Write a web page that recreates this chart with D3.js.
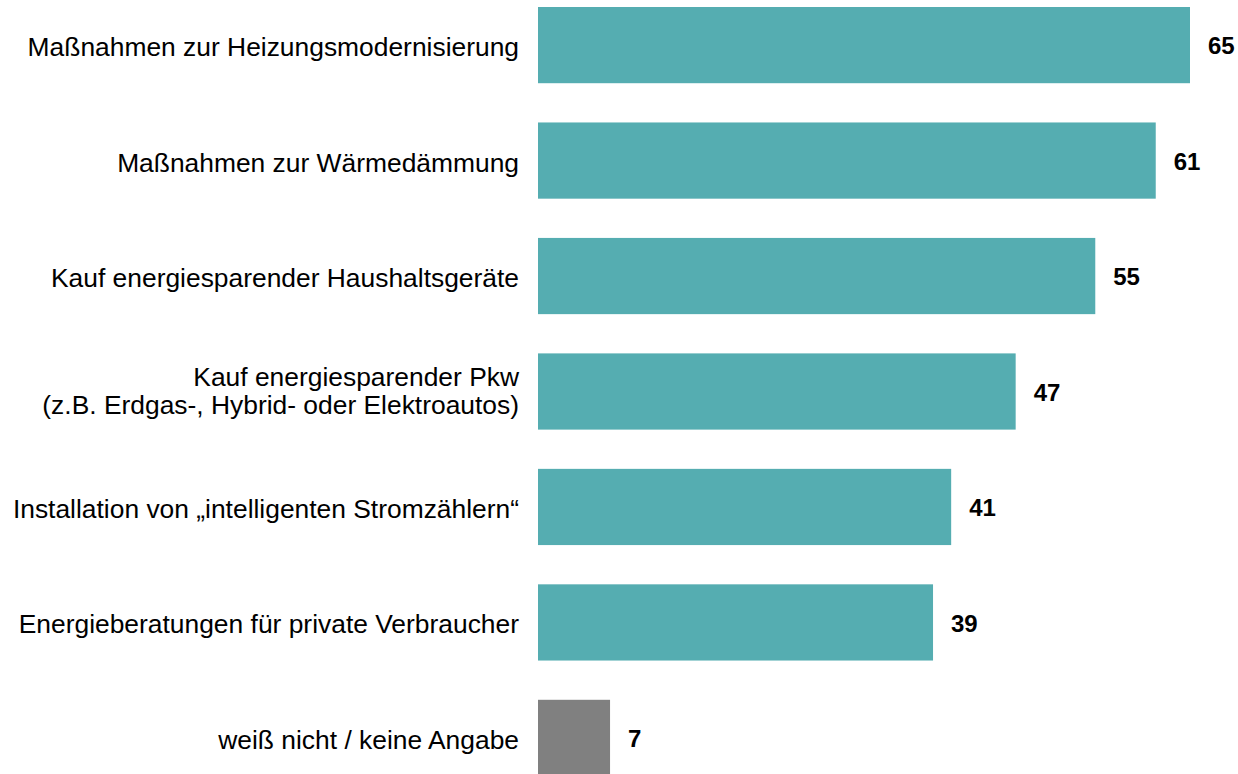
<!DOCTYPE html>
<html>
<head>
<meta charset="utf-8">
<script src="https://cdn.jsdelivr.net/npm/d3@7"></script>
<style>
  body { margin: 0; background: #fff; }
  text { font-family: "Liberation Sans", Arial, sans-serif; }
</style>
</head>
<body>
<div id="chart"></div>
<script>
const categories = [
  ["Maßnahmen zur Heizungsmodernisierung"],
  ["Maßnahmen zur Wärmedämmung"],
  ["Kauf energiesparender Haushaltsgeräte"],
  ["Kauf energiesparender Pkw", "(z.B. Erdgas-, Hybrid- oder Elektroautos)"],
  ["Installation von „intelligenten Stromzählern“"],
  ["Energieberatungen für private Verbraucher"],
  ["weiß nicht / keine Angabe"]
];
// bar lengths (unrounded), and the printed labels
const values = [64.7, 61.3, 55.3, 47.4, 41.0, 39.2, 7.15];
const valueLabels = ["65", "61", "55", "47", "41", "39", "7"];
const isOther = [false, false, false, false, false, false, true];

const width = 1238, height = 774;

const svg = d3.select("#chart")
  .append("svg")
  .attr("width", width)
  .attr("height", height);

// scales
const x = d3.scaleLinear()
  .domain([0, 64.7])
  .range([538, 1190]);

const y = d3.scaleBand()
  .domain(d3.range(values.length))
  .range([7, 776])
  .paddingInner(0.34)
  .paddingOuter(0);

// bars
svg.selectAll(".bar")
  .data(values)
  .enter()
  .append("rect")
  .attr("class", "bar")
  .attr("x", x(0))
  .attr("y", (d, i) => y(i))
  .attr("width", d => x(d) - x(0))
  .attr("height", y.bandwidth())
  .attr("fill", (d, i) => isOther[i] ? "#808080" : "#55adb1");

// value labels
svg.selectAll(".value")
  .data(values)
  .enter()
  .append("text")
  .attr("class", "value")
  .attr("x", d => x(d) + 18)
  .attr("y", (d, i) => y(i) + y.bandwidth() / 2)
  .attr("dy", "0.38em")
  .attr("font-size", 24)
  .attr("font-weight", "bold")
  .attr("fill", "#000")
  .text((d, i) => valueLabels[i]);

// category labels
const labels = svg.selectAll(".cat")
  .data(categories)
  .enter()
  .append("text")
  .attr("class", "cat")
  .attr("text-anchor", "end")
  .attr("font-size", 26.4)
  .attr("fill", "#000")
  .attr("y", (d, i) => y(i) + y.bandwidth() / 2 + 11 - (d.length - 1) * 17);

labels.selectAll("tspan")
  .data(d => d.map((line, j) => ({ line, j })))
  .enter()
  .append("tspan")
  .attr("x", 519)
  .attr("dy", d => d.j === 0 ? 0 : 28)
  .text(d => d.line);
</script>
</body>
</html>
